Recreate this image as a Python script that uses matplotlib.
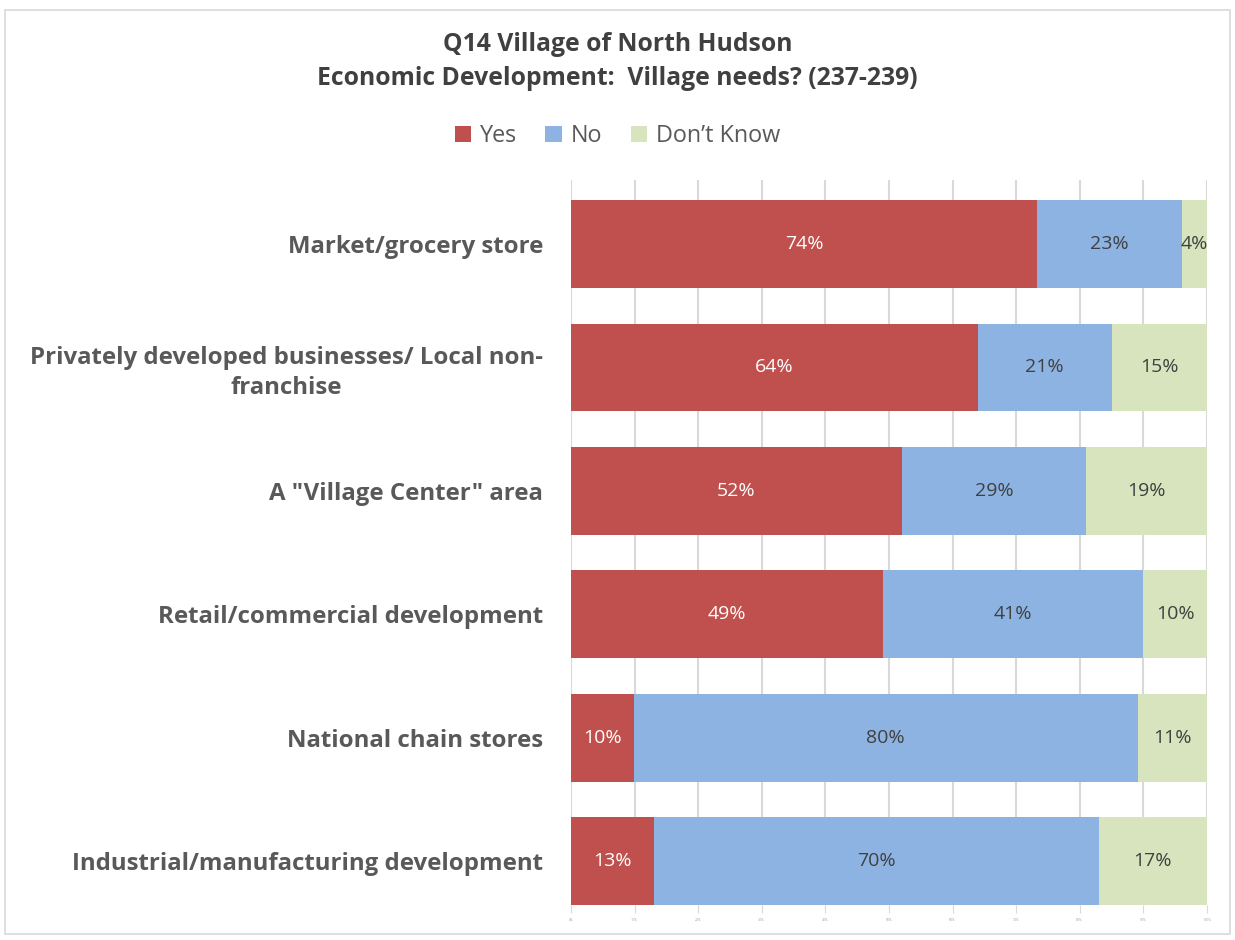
import matplotlib.pyplot as plt
from matplotlib.patches import Rectangle, Patch
import numpy as np

plt.rcParams['font.family'] = ['Open Sans', 'DejaVu Sans']

categories = [
    "Market/grocery store",
    "Privately developed businesses/ Local non-\nfranchise",
    'A "Village Center" area',
    "Retail/commercial development",
    "National chain stores",
    "Industrial/manufacturing development",
]
yes = [74, 64, 52, 49, 10, 13]
no = [23, 21, 29, 41, 80, 70]
dont_know = [4, 15, 19, 10, 11, 17]
series_names = ["Yes", "No", "Don\u2019t Know"]
colors = ["#C0504D", "#8DB3E2", "#D7E4BD"]
label_colors = ["white", "#404040", "#404040"]
tick_labels = [f"{v}%" for v in range(0, 101, 10)]

fig = plt.figure(figsize=(12.35, 9.4), dpi=100)
fig.patches.append(Rectangle((0.004, 0.006), 0.992, 0.983, transform=fig.transFigure,
                             fill=False, edgecolor="#D9D9D9", linewidth=1.2))

ax = fig.add_axes([0.4623, 0.0372, 0.515, 0.771])

data = np.array([yes, no, dont_know], dtype=float)
shares = data / data.sum(axis=0) * 100
y = np.arange(len(categories))[::-1]
bar_h = 0.71

left = np.zeros(len(categories))
for i, name in enumerate(series_names):
    bars = ax.barh(y, shares[i], left=left, height=bar_h, color=colors[i],
                   label=name, zorder=2)
    for b, raw in zip(bars, data[i]):
        cx = b.get_x() + b.get_width() / 2
        ax.text(cx, b.get_y() + b.get_height() / 2, f"{int(raw)}%",
                ha="center", va="center", fontsize=14, color=label_colors[i], zorder=3)
    left += shares[i]

ax.set_xlim(0, 100)
ax.set_ylim(-bar_h / 2, 5 + bar_h / 2 + 0.16)
ax.set_xticks(range(0, 101, 10))
ax.set_xticklabels(tick_labels, fontsize=2.5, color="#A0A0A0")
ax.tick_params(axis="x", length=6, color="#D9D9D9", pad=3)
ax.xaxis.grid(True, color="#D9D9D9", linewidth=1.5, zorder=0)
ax.set_axisbelow(True)
ax.set_yticks(y)
ax.set_yticklabels(categories, fontsize=17.3, fontweight="bold", color="#595959",
                   ha="right", multialignment="center", linespacing=1.3)
ax.tick_params(axis="y", length=0, pad=20)
for s in ax.spines.values():
    s.set_visible(False)

fig.text(0.5, 0.953, "Q14 Village of North Hudson", ha="center", va="center",
         fontsize=17.8, fontweight="bold", color="#404040")
fig.text(0.5, 0.917, "Economic Development:  Village needs? (237-239)", ha="center",
         va="center", fontsize=17.8, fontweight="bold", color="#404040")

handles = [Patch(facecolor=c, label=n) for c, n in zip(colors, series_names)]
fig.legend(handles=handles, loc="center", bbox_to_anchor=(0.5, 0.855), ncol=3,
           frameon=False, fontsize=16.8, handlelength=0.7, handleheight=0.7,
           handletextpad=0.4, columnspacing=1.2, labelcolor="#595959")

fig.savefig("out.png", dpi=100)
